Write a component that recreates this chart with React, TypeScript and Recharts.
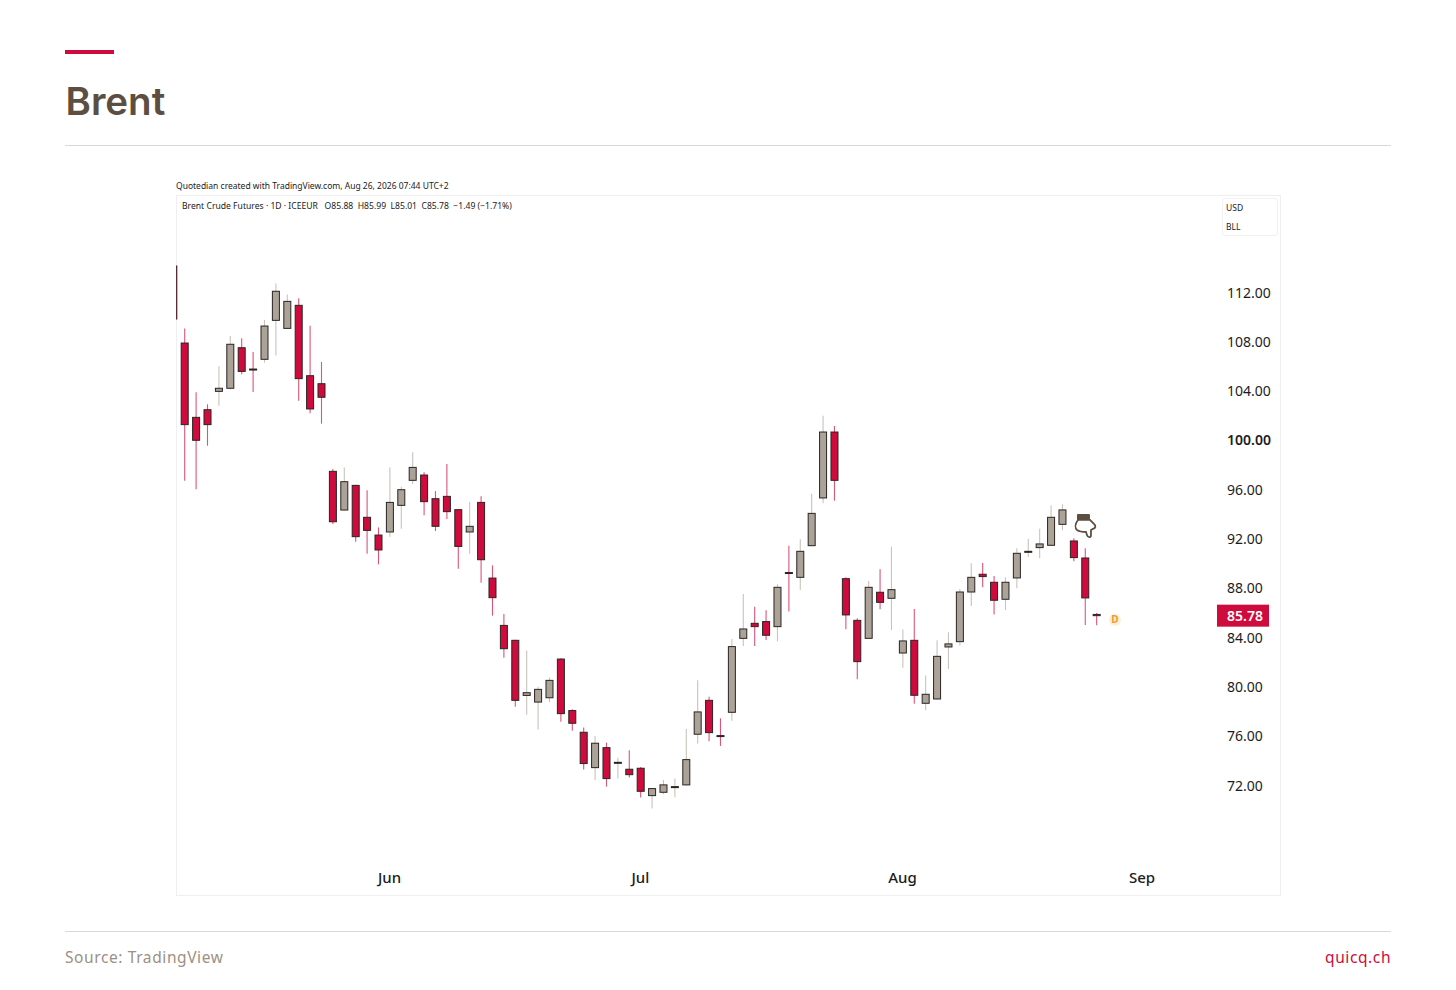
import React from 'react';
import { ComposedChart, Bar, XAxis, YAxis, ReferenceDot } from 'recharts';

// Daily sessions, the first one is cut off by the left edge of the pane
const firstSession = -1;
const opens = [
  114.15, 107.9, 101.87, 102.49, 103.98, 104.23, 107.52, 105.79, 106.58, 109.74, 109.09, 110.96, 105.25, 104.6,
  97.49, 94.35, 96.35, 93.76, 92.32, 92.57, 94.73, 96.76, 97.19, 95.27, 95.46, 94.38, 92.57, 94.97, 88.83, 84.99,
  83.78, 79.31, 78.77, 79.12, 82.26, 78.08, 76.32, 73.45, 75.07, 73.84, 73.32, 73.4, 71.18, 71.45, 71.85, 72.05,
  76.16, 78.91, 76.05, 77.94, 83.94, 85.16, 85.3, 84.89, 89.28, 88.89, 91.46, 95.33, 100.68, 88.78, 85.4, 83.94,
  87.68, 87.19, 82.75, 83.78, 78.67, 79.02, 83.24, 83.67, 87.7, 89.14, 88.49, 87.11, 88.84, 90.95, 91.3, 91.49,
  93.19, 91.84, 90.46, 85.88,
];
const highs = [
  114.15, 109.07, 103.9, 102.93, 106.01, 108.47, 108.28, 107.17, 109.77, 112.74, 111.83, 111.53, 109.31, 106.36,
  97.68, 97.81, 96.4, 95.95, 92.94, 97.81, 96.24, 99.03, 97.41, 95.89, 98.08, 94.42, 95.0, 95.46, 89.86, 85.91,
  83.82, 82.96, 80.02, 80.77, 82.32, 78.18, 76.7, 76.02, 75.48, 74.26, 74.86, 73.51, 71.8, 72.45, 72.56, 76.59,
  80.54, 79.21, 77.45, 83.89, 87.54, 86.51, 86.21, 88.32, 91.46, 91.98, 95.68, 102.01, 101.17, 88.89, 85.57, 88.59,
  89.54, 91.38, 84.65, 86.32, 80.92, 83.78, 84.43, 87.95, 90.03, 90.06, 89.0, 88.89, 91.25, 92.03, 92.84, 94.71,
  94.82, 92.06, 91.25, 85.99,
];
const lows = [
  109.85, 96.73, 96.03, 99.57, 102.82, 104.15, 105.36, 103.93, 106.31, 106.88, 109.05, 103.22, 102.2, 101.36,
  93.21, 94.3, 91.78, 90.81, 89.94, 92.19, 92.84, 96.46, 93.92, 92.65, 93.62, 89.59, 90.81, 88.45, 85.78, 82.37,
  78.39, 77.74, 76.55, 78.77, 77.18, 76.45, 73.29, 72.42, 71.91, 72.56, 72.64, 71.02, 70.13, 71.29, 71.04, 72.0,
  75.4, 75.59, 75.21, 77.26, 83.32, 83.32, 83.81, 83.7, 86.11, 87.86, 91.42, 94.9, 95.11, 84.67, 80.62, 83.9,
  86.3, 84.62, 81.56, 78.64, 78.1, 78.98, 81.46, 83.35, 86.57, 88.08, 85.87, 86.24, 88.0, 90.54, 90.44, 91.45,
  92.71, 90.19, 85.03, 85.01,
];
const closes = [
  109.85, 101.28, 100.01, 101.28, 104.23, 107.8, 105.6, 105.72, 109.28, 112.1, 111.28, 105.01, 102.55, 103.5,
  93.4, 96.65, 92.19, 92.7, 91.11, 94.97, 96.0, 97.81, 95.03, 93.03, 94.22, 91.4, 93.03, 90.32, 87.24, 83.1,
  78.91, 79.53, 79.8, 80.53, 77.83, 77.05, 73.78, 75.43, 72.56, 73.88, 72.88, 71.53, 71.75, 72.05, 71.91, 74.1,
  77.97, 76.29, 75.97, 83.27, 84.7, 84.89, 84.19, 88.08, 89.2, 91.0, 94.08, 100.68, 96.76, 85.84, 82.05, 88.08,
  86.86, 87.89, 83.73, 79.32, 79.4, 82.48, 83.49, 87.7, 88.89, 88.95, 87.03, 88.49, 90.84, 91.0, 91.6, 93.76,
  94.36, 90.49, 87.22, 85.78,
];

const priceTicks = [112, 108, 104, 100, 96, 92, 88, 84, 80, 76, 72];
const lastClose = 85.78;
const monthTicks = [18, 40, 63, 84];
const monthLabels = ['Jun', 'Jul', 'Aug', 'Sep'];

const candles = opens.map((open, i) => ({
  session: firstSession + i,
  open,
  high: highs[i],
  low: lows[i],
  close: closes[i],
}));

const CRIMSON = '#cf0a3c';
const TAUPE = '#aca398';
const BROWN = '#5c4f42';

// Bar gives us the low-high box, open and close are placed inside it with the same px/price ratio
const Candle = (props: any) => {
  const { x, y, width, height, payload } = props;
  const { open, high, low, close } = payload;
  const perUnit = height / (high - low);
  const yOpen = y + (high - open) * perUnit;
  const yClose = y + (high - close) * perUnit;
  const top = Math.min(yOpen, yClose);
  const bodyH = Math.max(Math.abs(yClose - yOpen), 1);
  const up = close >= open;
  const mid = x + width / 2;
  return (
    <g>
      <line x1={mid} x2={mid} y1={y} y2={y + height} stroke={up ? '#c9c3bb' : '#dc5579'} strokeWidth={1.1} />
      <rect
        x={x + 0.5}
        y={top}
        width={width - 1}
        height={bodyH}
        fill={up ? TAUPE : CRIMSON}
        stroke="#2a2422"
        strokeWidth={1}
      />
    </g>
  );
};

const PriceTick = (props: any) => {
  const { x, y, payload } = props;
  const label = payload.value.toFixed(2);
  if (payload.value === lastClose) {
    return (
      <g>
        <rect x={1041} y={y - 11} width={52} height={22} fill={CRIMSON} />
        <text x={1051} y={y + 5} fontSize={14} fontWeight={600} fill="#fff" fontFamily="Noto Sans">
          {label}
        </text>
      </g>
    );
  }
  return (
    <text
      x={x}
      y={y + 5}
      fontSize={14}
      fontWeight={payload.value === 100 ? 600 : 400}
      fill="#1c1c1c"
      fontFamily="Noto Sans"
    >
      {label}
    </text>
  );
};

const MonthTick = (props: any) => {
  const { x, payload } = props;
  return (
    <text x={x} y={687} textAnchor="middle" fontSize={15} fontWeight={500} fill="#1c1c1c" fontFamily="Noto Sans">
      {monthLabels[monthTicks.indexOf(payload.value)]}
    </text>
  );
};

const HandMark = ({ cx, cy }: any) => (
  <g transform={`translate(${cx},${cy})`}>
    <rect x={-8} y={-11} width={13} height={6} fill={BROWN} rx={1} />
    <path
      d="M-7 -5 C-10 -1 -10 3 -8 5 C-5 7 -2 7 1 7 L2 10 C3 13 6 13 6 10 L6 5 L8 4 C11 3 11 1 9 -1 L5 -5 Z"
      fill="#fff"
      stroke={BROWN}
      strokeWidth={1.8}
    />
  </g>
);

const DailyMark = ({ cx, cy }: any) => (
  <g>
    <circle cx={cx} cy={cy} r={6} fill="#fdeeda" />
    <text x={cx} y={cy + 3.5} textAnchor="middle" fontSize={10} fontWeight={700} fill="#ef9a2d" fontFamily="Noto Sans">
      D
    </text>
  </g>
);

const abs = (left: number, top: number, extra: React.CSSProperties = {}): React.CSSProperties => ({
  position: 'absolute',
  left,
  top,
  whiteSpace: 'pre',
  ...extra,
});

export default function App() {
  return (
    <div style={abs(0, 0, { width: 1456, height: 990, background: '#fff', fontFamily: 'Noto Sans', overflow: 'hidden' })}>
      <div style={abs(65, 50, { width: 49, height: 4, background: CRIMSON })} />
      <div
        style={abs(65.5, 76, {
          fontFamily: 'Inter',
          fontSize: 38.5,
          lineHeight: '50px',
          fontWeight: 600,
          color: BROWN,
        })}
      >
        Brent
      </div>
      <div style={abs(65, 145, { width: 1326, height: 1, background: '#d8d8d8' })} />

      <div style={abs(176, 180, { fontSize: 8.5, lineHeight: '12px', color: '#222' })}>
        Quotedian created with TradingView.com, Aug 26, 2026 07:44 UTC+2
      </div>

      <div style={abs(176, 195, { width: 1103, height: 699, border: '1px solid #efefef' })} />

      <div style={abs(176, 196)}>
        <ComposedChart
          width={1104}
          height={699}
          data={candles}
          margin={{ top: 0, right: 0, bottom: 0, left: 0 }}
        >
          <XAxis
            type="number"
            dataKey="session"
            domain={[-0.737, 90.67]}
            allowDataOverflow
            ticks={monthTicks}
            interval={0}
            height={30}
            axisLine={false}
            tickLine={false}
            tick={<MonthTick />}
          />
          <YAxis
            orientation="right"
            type="number"
            domain={[65.55, 119.83]}
            allowDataOverflow
            ticks={[...priceTicks, lastClose]}
            interval={0}
            width={62}
            axisLine={false}
            tickLine={false}
            tickMargin={3}
            tick={<PriceTick />}
          />
          <Bar
            dataKey={(d: any) => [d.low, d.high]}
            barSize={8}
            isAnimationActive={false}
            shape={<Candle />}
          />
          <ReferenceDot x={79} y={93.14} r={0} ifOverflow="visible" shape={<HandMark />} />
          <ReferenceDot x={81.63} y={85.43} r={0} ifOverflow="visible" shape={<DailyMark />} />
        </ComposedChart>
      </div>

      <div style={abs(182, 200, { fontSize: 8.6, lineHeight: '12px', color: '#222' })}>
        {'Brent Crude Futures · 1D · ICEEUR   O85.88  H85.99  L85.01  C85.78  −1.49 (−1.71%)'}
      </div>

      <div
        style={abs(1222, 198, {
          width: 54,
          height: 36,
          border: '1px solid #f1f1f1',
          borderRadius: 3,
          fontSize: 8.5,
          color: '#222',
          background: '#fff',
        })}
      >
        <div style={abs(3, 3)}>USD</div>
        <div style={abs(3, 22)}>BLL</div>
      </div>

      <div style={abs(65, 931, { width: 1326, height: 1, background: '#d8d8d8' })} />
      <div style={abs(65, 946, { fontSize: 15.5, lineHeight: '22px', letterSpacing: 0.6, color: '#9c9084' })}>
        Source: TradingView
      </div>
      <div style={abs(1325, 946, { fontSize: 15.5, lineHeight: '22px', letterSpacing: 0.6, color: CRIMSON })}>
        quicq.ch
      </div>
    </div>
  );
}
